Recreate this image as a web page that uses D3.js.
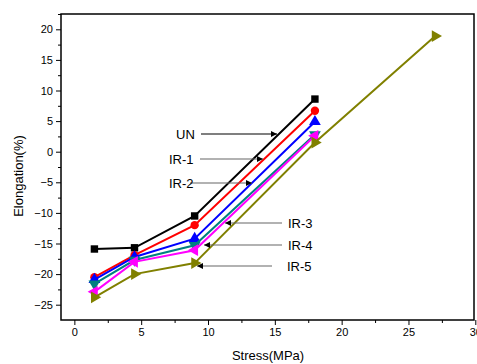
<!DOCTYPE html>
<html><head><meta charset="utf-8">
<script src="https://cdn.jsdelivr.net/npm/d3@7"></script>
<style>body{margin:0;background:#fff}svg{display:block}text{font-family:"Liberation Sans",Arial,sans-serif}</style>
</head><body>
<svg id="c" width="477" height="364"></svg>
<script>
const stress = [1.5, 4.5, 9, 18];
const UN  = [-15.9, -15.7, -10.5, 8.6];
const IR1 = [-20.5, -16.9, -12.0, 6.7];
const IR2 = [-20.9, -17.2, -14.2, 4.9];
const IR3 = [-21.6, -17.7, -15.3, 2.8];
const IR4 = [-22.9, -18.0, -16.1, 2.6];
const IR5x = [1.5, 4.5, 9, 18, 27];
const IR5 = [-23.8, -20.0, -18.2, 1.5, 18.9];
const xTicks = [0, 5, 10, 15, 20, 25, 30];
const yTicks = [-25, -20, -15, -10, -5, 0, 5, 10, 15, 20];

const svg = d3.select("#c");
const L = 61, R = 474, T = 14, B = 320;
const x = d3.scaleLinear().domain([-1, 30]).range([L, 475.3]);
const y = d3.scaleLinear().domain([-27.5, 22.5]).range([B, T]);

// frame
svg.append("rect").attr("x", L).attr("y", T).attr("width", R - L).attr("height", B - T)
  .attr("fill", "none").attr("stroke", "#000").attr("stroke-width", 1.5);

// axes
const xa = svg.append("g").attr("transform", `translate(0,${B})`)
  .call(d3.axisBottom(x).tickValues(xTicks).tickSize(5).tickPadding(3).tickFormat(d3.format("d")));
xa.select(".domain").remove();
xa.selectAll("text").attr("font-size", 11).attr("fill", "#000").attr("font-family", "Liberation Sans, Arial, sans-serif");
svg.append("g").attr("transform", `translate(0,${B})`)
  .call(d3.axisBottom(x).tickValues(d3.range(2.5, 30, 5)).tickSize(3).tickFormat(""))
  .select(".domain").remove();

const ya = svg.append("g").attr("transform", `translate(${L},0)`)
  .call(d3.axisLeft(y).tickValues(yTicks).tickSize(5).tickPadding(3).tickFormat(d3.format("d")));
ya.select(".domain").remove();
ya.selectAll("text").attr("font-size", 11).attr("fill", "#000").attr("font-family", "Liberation Sans, Arial, sans-serif");
svg.append("g").attr("transform", `translate(${L},0)`)
  .call(d3.axisLeft(y).tickValues(d3.range(-22.5, 22.6, 5)).tickSize(3).tickFormat(""))
  .select(".domain").remove();

// titles
svg.append("text").attr("x", 268).attr("y", 360).attr("text-anchor", "middle")
  .attr("font-size", 13).text("Stress(MPa)");
svg.append("text").attr("transform", "translate(23,176) rotate(-90)").attr("text-anchor", "middle")
  .attr("font-size", 13).text("Elongation(%)");

const series = [
  {xs: stress, ys: UN,  color: "#000000", sym: d3.symbolSquare, rot: 0, size: 55},
  {xs: stress, ys: IR1, color: "#ff0000", sym: d3.symbolCircle, rot: 0, size: 55},
  {xs: stress, ys: IR2, color: "#0000ff", sym: d3.symbolTriangle, rot: 0, size: 60},
  {xs: stress, ys: IR3, color: "#008080", sym: d3.symbolTriangle, rot: 180, size: 60},
  {xs: stress, ys: IR4, color: "#ff00ff", sym: d3.symbolTriangle, rot: -90, size: 60},
  {xs: IR5x,   ys: IR5, color: "#808000", sym: d3.symbolTriangle, rot: 90, size: 60},
];
const line = d3.line().x(d => x(d[0])).y(d => y(d[1]));
series.forEach(s => {
  const pts = s.xs.map((v, i) => [v, s.ys[i]]);
  svg.append("path").attr("d", line(pts)).attr("fill", "none")
    .attr("stroke", s.color).attr("stroke-width", 2);
  svg.append("g").selectAll("path").data(pts).join("path")
    .attr("d", d3.symbol().type(s.sym).size(s.size))
    .attr("transform", d => `translate(${x(d[0])},${y(d[1])}) rotate(${s.rot})`)
    .attr("fill", s.color);
});

// annotations
const defs = svg.append("defs");
["#000", "#555"].forEach((c, i) => {
  defs.append("marker").attr("id", "ah" + i).attr("viewBox", "0 0 10 10").attr("refX", 10).attr("refY", 5)
    .attr("markerWidth", 8).attr("markerHeight", 6).attr("orient", "auto").attr("markerUnits", "userSpaceOnUse")
    .append("path").attr("d", "M0,0L10,5L0,10Z").attr("fill", c === "#000" ? "#000" : "#000");
});
const notes = [
  {t: "UN",   tx: 176, ty: 134, x1: 201, x2: 277, c: "#000", m: 0, anchor: "start"},
  {t: "IR-1", tx: 169, ty: 159, x1: 200, x2: 263, c: "#666", m: 1, anchor: "start"},
  {t: "IR-2", tx: 169, ty: 183, x1: 190, x2: 252, c: "#666", m: 1, anchor: "start"},
  {t: "IR-3", tx: 288, ty: 223, x1: 282, x2: 225, c: "#666", m: 1, anchor: "start"},
  {t: "IR-4", tx: 288, ty: 245, x1: 282, x2: 204, c: "#666", m: 1, anchor: "start"},
  {t: "IR-5", tx: 287, ty: 266, x1: 272, x2: 197, c: "#666", m: 1, anchor: "start"},
];
notes.forEach(n => {
  svg.append("line").attr("x1", n.x1).attr("x2", n.x2).attr("y1", n.ty).attr("y2", n.ty)
    .attr("stroke", n.c).attr("stroke-width", 1.2).attr("marker-end", `url(#ah${n.m})`);
  svg.append("text").attr("x", n.tx).attr("y", n.ty).attr("dy", "0.35em")
    .attr("font-size", 13).attr("text-anchor", n.anchor).text(n.t);
});
</script>
</body></html>
